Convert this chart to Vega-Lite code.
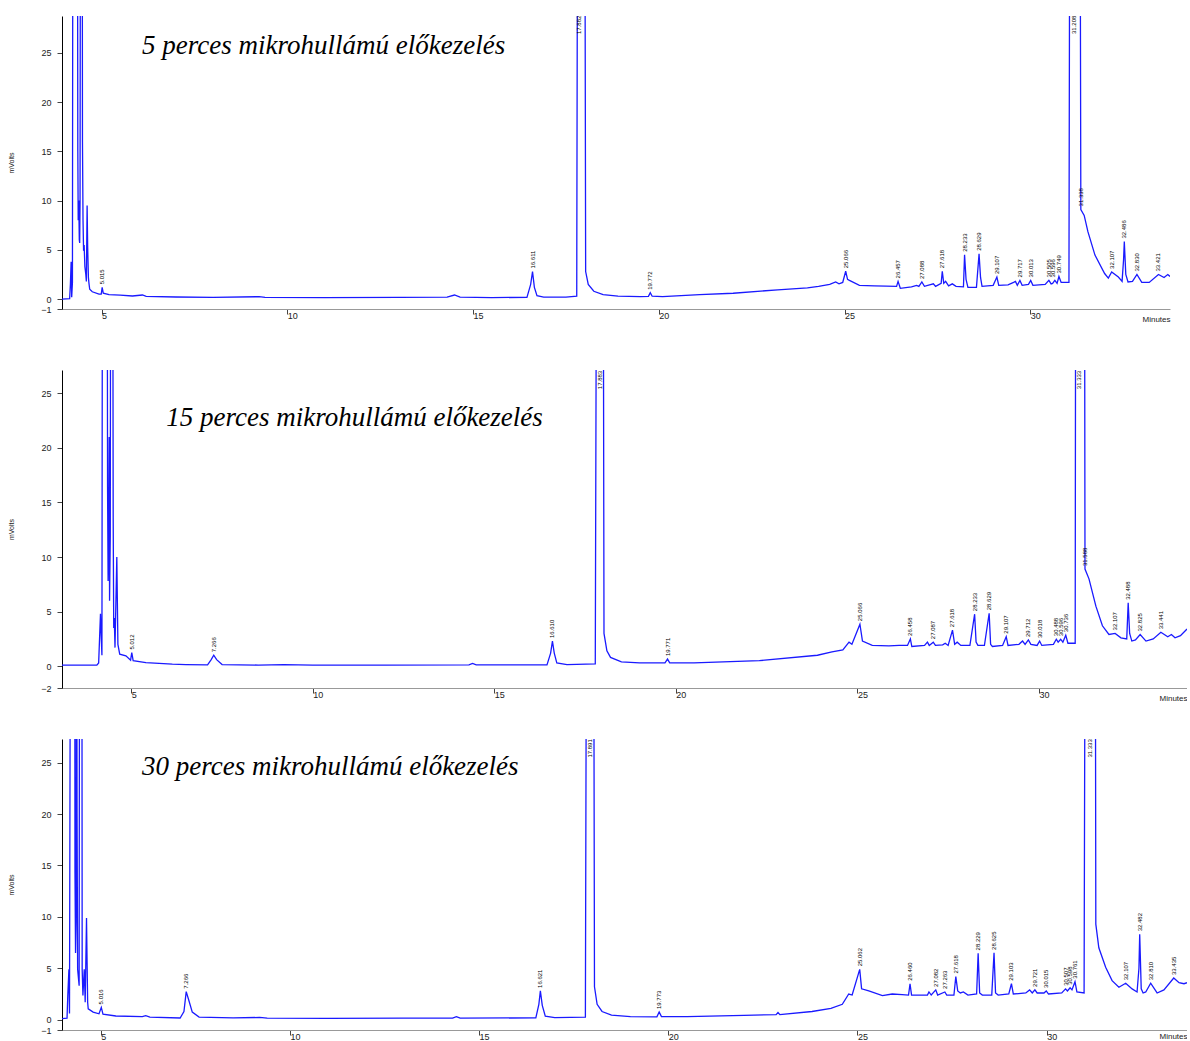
{
"$schema": "https://vega.github.io/schema/vega-lite/v6.json",
"padding": {"left": 7, "top": 15, "right": 0, "bottom": 0},
"autosize": {"type": "pad"},
"bounds": "flush",
"spacing": 61,
"config": {
 "view": {"stroke": null},
 "axis": {"grid": false, "labelFont": "Liberation Sans", "labelFontSize": 9, "labelColor": "#222", "tickColor": "#444", "tickSize": 5, "titleFont": "Liberation Sans", "titleFontWeight": "normal", "titleColor": "#222", "labelFlush": false},
 "axisX": {"domainColor": "#999", "labelAlign": "left", "labelDx": 2, "labelPadding": -3, "labelBaseline": "top", "titleAnchor": "end", "titleAlign": "right", "titleBaseline": "top", "titleFontSize": 8, "titleY": 6},
 "axisY": {"domainColor": "#000", "labelPadding": 6, "titleFontSize": 7, "titlePadding": 26}
},
"datasets": {
 "s5": [{"t":3.934,"v":0},{"t":4.14,"v":0.05},{"t":4.16,"v":1.5},{"t":4.18,"v":3.8},{"t":4.195,"v":0.2},{"t":4.215,"v":1.7},{"t":4.23,"v":60},{"t":4.345,"v":60},{"t":4.36,"v":15},{"t":4.37,"v":8},{"t":4.385,"v":10},{"t":4.4,"v":6},{"t":4.41,"v":5.7},{"t":4.42,"v":10},{"t":4.435,"v":60},{"t":4.475,"v":60},{"t":4.485,"v":16},{"t":4.5,"v":8},{"t":4.515,"v":4.9},{"t":4.53,"v":5.5},{"t":4.55,"v":3.3},{"t":4.575,"v":2.5},{"t":4.59,"v":1.8},{"t":4.61,"v":9.5},{"t":4.625,"v":5.3},{"t":4.645,"v":2.2},{"t":4.66,"v":1.6},{"t":4.68,"v":1.0},{"t":4.75,"v":0.75},{"t":4.93,"v":0.5},{"t":4.99,"v":0.5},{"t":5.015,"v":1.2},{"t":5.045,"v":0.6},{"t":5.2,"v":0.45},{"t":5.5,"v":0.4},{"t":5.83,"v":0.32},{"t":6.1,"v":0.42},{"t":6.2,"v":0.28},{"t":7.0,"v":0.22},{"t":8.0,"v":0.18},{"t":9.24,"v":0.25},{"t":9.4,"v":0.17},{"t":11,"v":0.15},{"t":13,"v":0.18},{"t":14.3,"v":0.2},{"t":14.5,"v":0.42},{"t":14.65,"v":0.2},{"t":15.5,"v":0.16},{"t":16.45,"v":0.18},{"t":16.55,"v":1.5},{"t":16.6,"v":2.8},{"t":16.65,"v":1.2},{"t":16.72,"v":0.35},{"t":16.9,"v":0.2},{"t":17.5,"v":0.2},{"t":17.79,"v":0.3},{"t":17.82,"v":60},{"t":18.0,"v":60},{"t":18.03,"v":2.8},{"t":18.1,"v":1.5},{"t":18.25,"v":0.8},{"t":18.5,"v":0.45},{"t":18.9,"v":0.3},{"t":19.5,"v":0.25},{"t":19.72,"v":0.28},{"t":19.77,"v":0.65},{"t":19.82,"v":0.3},{"t":20.1,"v":0.25},{"t":21.1,"v":0.45},{"t":22,"v":0.6},{"t":23.2,"v":0.95},{"t":24.0,"v":1.15},{"t":24.3,"v":1.3},{"t":24.6,"v":1.5},{"t":24.76,"v":1.74},{"t":24.85,"v":1.56},{"t":24.95,"v":1.7},{"t":25.03,"v":2.83},{"t":25.08,"v":2.0},{"t":25.13,"v":1.9},{"t":25.4,"v":1.4},{"t":25.8,"v":1.35},{"t":26.12,"v":1.32},{"t":26.4,"v":1.3},{"t":26.44,"v":1.8},{"t":26.5,"v":1.1},{"t":26.8,"v":1.25},{"t":26.94,"v":1.4},{"t":27.0,"v":1.3},{"t":27.08,"v":1.74},{"t":27.15,"v":1.3},{"t":27.39,"v":1.56},{"t":27.45,"v":1.3},{"t":27.6,"v":1.6},{"t":27.63,"v":2.83},{"t":27.67,"v":1.6},{"t":27.72,"v":1.8},{"t":27.8,"v":1.35},{"t":27.9,"v":1.55},{"t":28.0,"v":1.3},{"t":28.2,"v":1.25},{"t":28.23,"v":4.5},{"t":28.27,"v":2.0},{"t":28.32,"v":1.2},{"t":28.55,"v":1.2},{"t":28.62,"v":4.6},{"t":28.66,"v":2.2},{"t":28.7,"v":1.3},{"t":29.0,"v":1.4},{"t":29.1,"v":2.24},{"t":29.15,"v":1.4},{"t":29.4,"v":1.45},{"t":29.55,"v":1.7},{"t":29.6,"v":1.8},{"t":29.65,"v":1.4},{"t":29.72,"v":1.9},{"t":29.78,"v":1.4},{"t":29.95,"v":1.5},{"t":30.01,"v":1.9},{"t":30.07,"v":1.4},{"t":30.4,"v":1.5},{"t":30.5,"v":1.9},{"t":30.56,"v":1.55},{"t":30.6,"v":1.6},{"t":30.66,"v":1.9},{"t":30.72,"v":1.6},{"t":30.77,"v":2.3},{"t":30.83,"v":1.7},{"t":31.04,"v":1.7},{"t":31.07,"v":60},{"t":31.33,"v":60},{"t":31.36,"v":9.1},{"t":31.45,"v":8.5},{"t":31.55,"v":6.85},{"t":31.74,"v":4.47},{"t":32.0,"v":2.6},{"t":32.1,"v":2.14},{"t":32.19,"v":2.76},{"t":32.37,"v":2.24},{"t":32.47,"v":1.8},{"t":32.51,"v":4.0},{"t":32.53,"v":5.84},{"t":32.57,"v":2.5},{"t":32.63,"v":1.74},{"t":32.75,"v":1.8},{"t":32.87,"v":2.5},{"t":33.0,"v":1.7},{"t":33.2,"v":1.7},{"t":33.45,"v":2.5},{"t":33.6,"v":2.2},{"t":33.7,"v":2.5},{"t":33.76,"v":2.3}],
 "l5": [{"t":5.015,"v":1.2,"label":"5.015"},{"t":16.6,"v":2.8,"label":"16.611"},{"t":17.86,"v":26.6,"label":"17.882"},{"t":19.77,"v":0.65,"label":"19.772"},{"t":25.03,"v":2.83,"label":"25.066"},{"t":26.44,"v":1.8,"label":"26.457"},{"t":27.08,"v":1.74,"label":"27.088"},{"t":27.63,"v":2.83,"label":"27.618"},{"t":28.23,"v":4.5,"label":"28.233"},{"t":28.62,"v":4.6,"label":"28.629"},{"t":29.1,"v":2.24,"label":"29.107"},{"t":29.72,"v":1.9,"label":"29.717"},{"t":30.01,"v":1.9,"label":"30.013"},{"t":30.5,"v":1.9,"label":"30.505"},{"t":30.6,"v":1.9,"label":"30.596"},{"t":30.77,"v":2.3,"label":"30.749"},{"t":31.17,"v":26.6,"label":"31.208"},{"t":31.36,"v":9.1,"label":"31.338"},{"t":32.19,"v":2.76,"label":"32.107"},{"t":32.53,"v":5.84,"label":"32.486"},{"t":32.87,"v":2.5,"label":"32.830"},{"t":33.45,"v":2.5,"label":"33.421"}],
 "s15": [{"t":3.09,"v":0.1},{"t":4.05,"v":0.1},{"t":4.1,"v":0.3},{"t":4.15,"v":4.8},{"t":4.175,"v":2.3},{"t":4.19,"v":1.0},{"t":4.21,"v":60},{"t":4.33,"v":60},{"t":4.345,"v":16.4},{"t":4.36,"v":7.8},{"t":4.37,"v":10.5},{"t":4.39,"v":21},{"t":4.4,"v":6},{"t":4.42,"v":12},{"t":4.435,"v":60},{"t":4.48,"v":60},{"t":4.5,"v":13.6},{"t":4.515,"v":3.5},{"t":4.53,"v":4.4},{"t":4.55,"v":1.7},{"t":4.6,"v":10},{"t":4.63,"v":2.0},{"t":4.68,"v":1.1},{"t":4.85,"v":0.95},{"t":4.98,"v":0.55},{"t":5.012,"v":1.25},{"t":5.05,"v":0.5},{"t":5.4,"v":0.33},{"t":6.13,"v":0.18},{"t":6.5,"v":0.15},{"t":7.1,"v":0.12},{"t":7.2,"v":0.6},{"t":7.27,"v":1.0},{"t":7.35,"v":0.6},{"t":7.5,"v":0.15},{"t":8.5,"v":0.1},{"t":9.2,"v":0.15},{"t":10,"v":0.1},{"t":12,"v":0.1},{"t":14.3,"v":0.12},{"t":14.4,"v":0.25},{"t":14.5,"v":0.12},{"t":16.45,"v":0.12},{"t":16.55,"v":1.2},{"t":16.6,"v":2.3},{"t":16.65,"v":1.2},{"t":16.72,"v":0.3},{"t":17.0,"v":0.15},{"t":17.78,"v":0.2},{"t":17.83,"v":60},{"t":17.99,"v":60},{"t":18.02,"v":3.0},{"t":18.1,"v":1.4},{"t":18.2,"v":0.8},{"t":18.5,"v":0.4},{"t":19,"v":0.3},{"t":19.7,"v":0.3},{"t":19.77,"v":0.65},{"t":19.83,"v":0.3},{"t":20.5,"v":0.3},{"t":22.3,"v":0.5},{"t":23.9,"v":1.0},{"t":24.3,"v":1.3},{"t":24.6,"v":1.5},{"t":24.77,"v":2.2},{"t":24.85,"v":2.0},{"t":25.07,"v":3.85},{"t":25.14,"v":2.3},{"t":25.41,"v":1.9},{"t":25.87,"v":1.86},{"t":26.15,"v":1.9},{"t":26.38,"v":1.9},{"t":26.46,"v":2.5},{"t":26.5,"v":1.8},{"t":26.85,"v":1.9},{"t":26.93,"v":2.2},{"t":26.98,"v":1.9},{"t":27.09,"v":2.2},{"t":27.15,"v":1.9},{"t":27.35,"v":1.95},{"t":27.42,"v":2.1},{"t":27.5,"v":1.9},{"t":27.62,"v":3.3},{"t":27.68,"v":2.0},{"t":27.75,"v":2.2},{"t":27.85,"v":1.9},{"t":28.1,"v":1.9},{"t":28.23,"v":4.76},{"t":28.27,"v":2.2},{"t":28.32,"v":1.9},{"t":28.5,"v":1.9},{"t":28.63,"v":4.85},{"t":28.67,"v":2.0},{"t":28.72,"v":1.8},{"t":29.0,"v":1.9},{"t":29.1,"v":2.7},{"t":29.15,"v":1.9},{"t":29.45,"v":2.0},{"t":29.55,"v":2.3},{"t":29.62,"v":2.0},{"t":29.71,"v":2.4},{"t":29.78,"v":2.0},{"t":29.95,"v":1.9},{"t":30.02,"v":2.3},{"t":30.08,"v":1.9},{"t":30.4,"v":2.0},{"t":30.48,"v":2.47},{"t":30.53,"v":2.2},{"t":30.6,"v":2.47},{"t":30.66,"v":2.2},{"t":30.74,"v":2.84},{"t":30.8,"v":2.1},{"t":31.0,"v":2.1},{"t":31.02,"v":60},{"t":31.25,"v":60},{"t":31.27,"v":8.9},{"t":31.38,"v":8.0},{"t":31.57,"v":5.5},{"t":31.75,"v":3.7},{"t":31.93,"v":2.9},{"t":32.1,"v":3.0},{"t":32.26,"v":2.6},{"t":32.42,"v":2.5},{"t":32.46,"v":5.8},{"t":32.5,"v":3.0},{"t":32.56,"v":2.3},{"t":32.66,"v":2.4},{"t":32.79,"v":2.9},{"t":32.95,"v":2.3},{"t":33.15,"v":2.5},{"t":33.36,"v":3.1},{"t":33.55,"v":2.7},{"t":33.65,"v":2.9},{"t":33.75,"v":2.6},{"t":33.9,"v":2.8},{"t":34.08,"v":3.4}],
 "l15": [{"t":5.012,"v":1.25,"label":"5.012"},{"t":7.27,"v":1.0,"label":"7.266"},{"t":16.6,"v":2.3,"label":"16.610"},{"t":17.9,"v":25.1,"label":"17.883"},{"t":19.77,"v":0.65,"label":"19.771"},{"t":25.07,"v":3.85,"label":"25.066"},{"t":26.46,"v":2.5,"label":"26.458"},{"t":27.09,"v":2.2,"label":"27.087"},{"t":27.62,"v":3.3,"label":"27.618"},{"t":28.23,"v":4.76,"label":"28.233"},{"t":28.63,"v":4.85,"label":"28.629"},{"t":29.1,"v":2.7,"label":"29.107"},{"t":29.71,"v":2.4,"label":"29.712"},{"t":30.02,"v":2.3,"label":"30.018"},{"t":30.48,"v":2.47,"label":"30.488"},{"t":30.6,"v":2.47,"label":"30.596"},{"t":30.74,"v":2.84,"label":"30.736"},{"t":31.11,"v":25.1,"label":"31.333"},{"t":31.27,"v":8.9,"label":"31.588"},{"t":32.1,"v":3.0,"label":"32.107"},{"t":32.46,"v":5.8,"label":"32.488"},{"t":32.79,"v":2.9,"label":"32.825"},{"t":33.36,"v":3.1,"label":"33.441"}],
 "s30": [{"t":3.977,"v":0.1},{"t":4.11,"v":0.15},{"t":4.13,"v":2.35},{"t":4.16,"v":4.9},{"t":4.175,"v":0.6},{"t":4.21,"v":60},{"t":4.31,"v":60},{"t":4.32,"v":14.3},{"t":4.335,"v":6.5},{"t":4.35,"v":9.5},{"t":4.36,"v":60},{"t":4.375,"v":20},{"t":4.39,"v":4.9},{"t":4.43,"v":3.3},{"t":4.445,"v":60},{"t":4.5,"v":60},{"t":4.51,"v":4.9},{"t":4.53,"v":2.35},{"t":4.565,"v":4.9},{"t":4.59,"v":1.7},{"t":4.625,"v":9.9},{"t":4.64,"v":5.6},{"t":4.655,"v":1.7},{"t":4.67,"v":1.06},{"t":4.8,"v":0.74},{"t":4.955,"v":0.58},{"t":5.016,"v":1.2},{"t":5.06,"v":0.55},{"t":5.4,"v":0.36},{"t":6.1,"v":0.3},{"t":6.19,"v":0.4},{"t":6.3,"v":0.25},{"t":7.1,"v":0.17},{"t":7.2,"v":0.8},{"t":7.26,"v":2.73},{"t":7.33,"v":1.87},{"t":7.42,"v":0.74},{"t":7.6,"v":0.26},{"t":8.5,"v":0.18},{"t":9.2,"v":0.22},{"t":9.4,"v":0.15},{"t":11,"v":0.13},{"t":13,"v":0.15},{"t":14.3,"v":0.15},{"t":14.4,"v":0.3},{"t":14.5,"v":0.15},{"t":16.5,"v":0.18},{"t":16.58,"v":1.5},{"t":16.62,"v":2.8},{"t":16.67,"v":1.4},{"t":16.75,"v":0.35},{"t":17.0,"v":0.2},{"t":17.81,"v":0.25},{"t":17.85,"v":60},{"t":18.02,"v":60},{"t":18.05,"v":3.2},{"t":18.12,"v":1.5},{"t":18.25,"v":0.8},{"t":18.5,"v":0.45},{"t":19,"v":0.3},{"t":19.7,"v":0.28},{"t":19.76,"v":0.75},{"t":19.82,"v":0.3},{"t":20.5,"v":0.3},{"t":22.0,"v":0.42},{"t":22.85,"v":0.5},{"t":22.9,"v":0.7},{"t":22.95,"v":0.5},{"t":23.8,"v":0.8},{"t":24.3,"v":1.1},{"t":24.6,"v":1.5},{"t":24.77,"v":2.5},{"t":24.86,"v":2.4},{"t":25.06,"v":4.9},{"t":25.11,"v":3.0},{"t":25.3,"v":2.8},{"t":25.66,"v":2.35},{"t":25.92,"v":2.5},{"t":26.18,"v":2.45},{"t":26.35,"v":2.4},{"t":26.39,"v":3.5},{"t":26.43,"v":2.4},{"t":26.85,"v":2.4},{"t":26.89,"v":2.7},{"t":26.95,"v":2.4},{"t":27.07,"v":2.9},{"t":27.12,"v":2.4},{"t":27.31,"v":2.7},{"t":27.36,"v":2.4},{"t":27.55,"v":2.4},{"t":27.6,"v":4.2},{"t":27.65,"v":2.8},{"t":27.72,"v":2.6},{"t":27.8,"v":2.7},{"t":27.92,"v":2.4},{"t":28.15,"v":2.5},{"t":28.19,"v":6.45},{"t":28.23,"v":2.6},{"t":28.3,"v":2.4},{"t":28.55,"v":2.4},{"t":28.61,"v":6.5},{"t":28.65,"v":2.6},{"t":28.72,"v":2.4},{"t":29.0,"v":2.5},{"t":29.07,"v":3.5},{"t":29.12,"v":2.5},{"t":29.45,"v":2.6},{"t":29.55,"v":2.9},{"t":29.62,"v":2.6},{"t":29.69,"v":2.9},{"t":29.75,"v":2.6},{"t":29.93,"v":2.6},{"t":29.99,"v":2.8},{"t":30.05,"v":2.5},{"t":30.4,"v":2.6},{"t":30.5,"v":3.0},{"t":30.55,"v":2.8},{"t":30.62,"v":3.1},{"t":30.67,"v":2.9},{"t":30.75,"v":3.7},{"t":30.8,"v":2.7},{"t":30.99,"v":2.6},{"t":31.03,"v":60},{"t":31.28,"v":60},{"t":31.3,"v":9.3},{"t":31.38,"v":7.0},{"t":31.56,"v":5.1},{"t":31.73,"v":3.8},{"t":31.91,"v":3.16},{"t":32.09,"v":3.55},{"t":32.26,"v":3.0},{"t":32.39,"v":2.7},{"t":32.44,"v":5.0},{"t":32.46,"v":8.3},{"t":32.5,"v":3.0},{"t":32.55,"v":2.6},{"t":32.62,"v":2.7},{"t":32.75,"v":3.55},{"t":32.92,"v":2.6},{"t":33.1,"v":2.9},{"t":33.36,"v":4.06},{"t":33.5,"v":3.6},{"t":33.63,"v":3.5},{"t":33.71,"v":3.6}],
 "l30": [{"t":5.016,"v":1.2,"label":"5.016"},{"t":7.26,"v":2.73,"label":"7.266"},{"t":16.62,"v":2.8,"label":"16.621"},{"t":17.94,"v":25.2,"label":"17.891"},{"t":19.76,"v":0.75,"label":"19.773"},{"t":25.06,"v":4.9,"label":"25.062"},{"t":26.39,"v":3.5,"label":"26.460"},{"t":27.07,"v":2.9,"label":"27.082"},{"t":27.31,"v":2.7,"label":"27.263"},{"t":27.6,"v":4.2,"label":"27.618"},{"t":28.19,"v":6.45,"label":"28.229"},{"t":28.61,"v":6.5,"label":"28.625"},{"t":29.07,"v":3.5,"label":"29.103"},{"t":29.69,"v":2.9,"label":"29.721"},{"t":29.99,"v":2.8,"label":"30.015"},{"t":30.5,"v":3.0,"label":"30.507"},{"t":30.62,"v":3.1,"label":"30.598"},{"t":30.75,"v":3.7,"label":"30.761"},{"t":31.15,"v":25.2,"label":"31.333"},{"t":32.09,"v":3.55,"label":"32.107"},{"t":32.46,"v":8.3,"label":"32.482"},{"t":32.75,"v":3.55,"label":"32.810"},{"t":33.36,"v":4.06,"label":"33.435"}]
},
"vconcat": [
 {
  "width": 1108, "height": 293,
  "layer": [
   {"data": {"name": "s5"}, "mark": {"type": "line", "clip": true, "color": "#1a1aff", "strokeWidth": 1.3},
    "encoding": {
     "x": {"field": "t", "type": "quantitative", "scale": {"domain": [3.934, 33.76], "nice": false, "zero": false}, "axis": {"values": [5,10,15,20,25,30], "title": "Minutes", "titleX": 1108}},
     "y": {"field": "v", "type": "quantitative", "scale": {"domain": [-1, 28.73], "nice": false, "zero": false}, "axis": {"values": [-1,0,5,10,15,20,25], "title": "mVolts"}}
    }},
   {"data": {"name": "l5"}, "mark": {"type": "text", "angle": 270, "align": "left", "baseline": "middle", "dx": 3, "font": "Liberation Sans", "fontSize": 6, "color": "#000"},
    "encoding": {"x": {"field": "t", "type": "quantitative"}, "y": {"field": "v", "type": "quantitative"}, "text": {"field": "label"}}},
   {"data": {"values": [{"name": "5 perces mikrohullámú előkezelés"}]}, "mark": {"type": "text", "font": "Liberation Serif", "fontStyle": "italic", "fontSize": 27, "align": "left", "baseline": "alphabetic", "color": "#000"},
    "encoding": {"x": {"datum": 6.09, "type": "quantitative"}, "y": {"datum": 24.9, "type": "quantitative"}, "text": {"field": "name", "type": "nominal"}}}
  ]
 },
 {
  "bounds": "flush",
  "spacing": 51,
  "vconcat": [
   {
    "width": 1125, "height": 318,
    "layer": [
     {"data": {"name": "s15"}, "mark": {"type": "line", "clip": true, "color": "#1a1aff", "strokeWidth": 1.3},
      "encoding": {
       "x": {"field": "t", "type": "quantitative", "scale": {"domain": [3.09, 34.08], "nice": false, "zero": false}, "axis": {"values": [5,10,15,20,25,30], "title": "Minutes", "titleX": 1125}},
       "y": {"field": "v", "type": "quantitative", "scale": {"domain": [-2, 27.13], "nice": false, "zero": false}, "axis": {"values": [-2,0,5,10,15,20,25], "title": "mVolts"}}
      }},
     {"data": {"name": "l15"}, "mark": {"type": "text", "angle": 270, "align": "left", "baseline": "middle", "dx": 3, "font": "Liberation Sans", "fontSize": 6, "color": "#000"},
      "encoding": {"x": {"field": "t", "type": "quantitative"}, "y": {"field": "v", "type": "quantitative"}, "text": {"field": "label"}}},
     {"data": {"values": [{"name": "15 perces mikrohullámú előkezelés"}]}, "mark": {"type": "text", "font": "Liberation Serif", "fontStyle": "italic", "fontSize": 27, "align": "left", "baseline": "alphabetic", "color": "#000"},
      "encoding": {"x": {"datum": 5.96, "type": "quantitative"}, "y": {"datum": 22.0, "type": "quantitative"}, "text": {"field": "name", "type": "nominal"}}}
    ]
   },
   {
    "width": 1125, "height": 291,
    "layer": [
     {"data": {"name": "s30"}, "mark": {"type": "line", "clip": true, "color": "#1a1aff", "strokeWidth": 1.3},
      "encoding": {
       "x": {"field": "t", "type": "quantitative", "scale": {"domain": [3.977, 33.71], "nice": false, "zero": false}, "axis": {"values": [5,10,15,20,25,30], "title": "Minutes", "titleX": 1125, "titleY": 2}},
       "y": {"field": "v", "type": "quantitative", "scale": {"domain": [-1, 27.3], "nice": false, "zero": false}, "axis": {"values": [-1,0,5,10,15,20,25], "title": "mVolts"}}
      }},
     {"data": {"name": "l30"}, "mark": {"type": "text", "angle": 270, "align": "left", "baseline": "middle", "dx": 3, "font": "Liberation Sans", "fontSize": 6, "color": "#000"},
      "encoding": {"x": {"field": "t", "type": "quantitative"}, "y": {"field": "v", "type": "quantitative"}, "text": {"field": "label"}}},
     {"data": {"values": [{"name": "30 perces mikrohullámú előkezelés"}]}, "mark": {"type": "text", "font": "Liberation Serif", "fontStyle": "italic", "fontSize": 27, "align": "left", "baseline": "alphabetic", "color": "#000"},
      "encoding": {"x": {"datum": 6.09, "type": "quantitative"}, "y": {"datum": 23.8, "type": "quantitative"}, "text": {"field": "name", "type": "nominal"}}}
    ]
   }
  ]
 }
]
}
